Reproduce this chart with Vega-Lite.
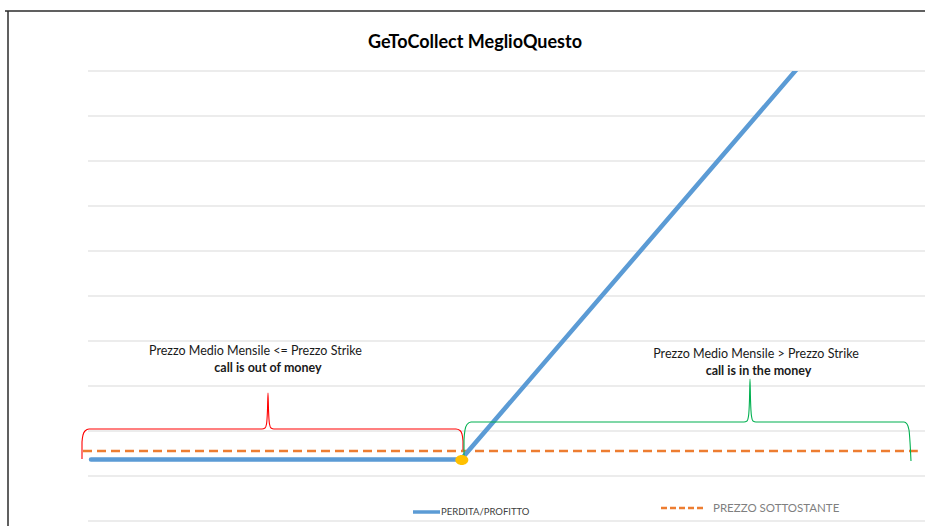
{
  "$schema": "https://vega.github.io/schema/vega-lite/v6.json",
  "width": 864,
  "height": 450,
  "autosize": "none",
  "padding": {"left": 61, "top": 71, "right": 0, "bottom": 5},
  "background": "white",
  "config": {"view": {"stroke": null}, "font": "Lato"},
  "datasets": {
    "titolo": [
      {"prezzo": 51.75, "valore": 86.22, "testo": "GeToCollect MeglioQuesto"}
    ],
    "grid": [
      {"valore": -20, "da": 3.375, "a": 108}, {"valore": -10, "da": 3.375, "a": 108},
      {"valore": 0, "da": 3.375, "a": 108}, {"valore": 10, "da": 3.375, "a": 108},
      {"valore": 20, "da": 3.375, "a": 108}, {"valore": 30, "da": 3.375, "a": 108},
      {"valore": 40, "da": 3.375, "a": 108}, {"valore": 50, "da": 3.375, "a": 108},
      {"valore": 60, "da": 3.375, "a": 108}, {"valore": 70, "da": 3.375, "a": 108},
      {"valore": 80, "da": 3.375, "a": 108}
    ],
    "cornice": [
      {"prezzo": -6.625, "valore": 93.33, "fine": -21.2}
    ],
    "corniceTop": [
      {"prezzo": -7.0, "valore": 93.33, "fine": 108}
    ],
    "payoff": [
      {"prezzo": 3.75, "valore": -6.33},
      {"prezzo": 50, "valore": -6.33},
      {"prezzo": 100, "valore": 97}
    ],
    "sottostante": [
      {"prezzo": 2.75, "valore": -4.44},
      {"prezzo": 107.1, "valore": -4.44}
    ],
    "strike": [
      {"prezzo": 50.1, "valore": -6.44}
    ],
    "braces": [
      {"brace": "out", "ord": 1, "prezzo": 2.625, "valore": -6.22},
      {"brace": "out", "ord": 2, "prezzo": 2.625, "valore": -2.44},
      {"brace": "out", "ord": 3, "prezzo": 2.75, "valore": -0.89},
      {"brace": "out", "ord": 4, "prezzo": 3.0, "valore": 0.0},
      {"brace": "out", "ord": 5, "prezzo": 3.5, "valore": 0.44},
      {"brace": "out", "ord": 6, "prezzo": 25.125, "valore": 0.44},
      {"brace": "out", "ord": 7, "prezzo": 25.5, "valore": 0.67},
      {"brace": "out", "ord": 8, "prezzo": 25.69, "valore": 1.56},
      {"brace": "out", "ord": 9, "prezzo": 25.81, "valore": 4.67},
      {"brace": "out", "ord": 10, "prezzo": 25.875, "valore": 8.44},
      {"brace": "out", "ord": 11, "prezzo": 25.94, "valore": 4.67},
      {"brace": "out", "ord": 12, "prezzo": 26.06, "valore": 1.56},
      {"brace": "out", "ord": 13, "prezzo": 26.25, "valore": 0.67},
      {"brace": "out", "ord": 14, "prezzo": 26.625, "valore": 0.44},
      {"brace": "out", "ord": 15, "prezzo": 49.375, "valore": 0.44},
      {"brace": "out", "ord": 16, "prezzo": 49.875, "valore": 0.11},
      {"brace": "out", "ord": 17, "prezzo": 50.125, "valore": -0.67},
      {"brace": "out", "ord": 18, "prezzo": 50.25, "valore": -2.22},
      {"brace": "out", "ord": 19, "prezzo": 50.25, "valore": -4.22},
      {"brace": "in", "ord": 1, "prezzo": 50.375, "valore": -6.89},
      {"brace": "in", "ord": 2, "prezzo": 50.375, "valore": -2.0},
      {"brace": "in", "ord": 3, "prezzo": 50.5, "valore": 0.22},
      {"brace": "in", "ord": 4, "prezzo": 50.75, "valore": 1.44},
      {"brace": "in", "ord": 5, "prezzo": 51.25, "valore": 2.0},
      {"brace": "in", "ord": 6, "prezzo": 85.375, "valore": 2.0},
      {"brace": "in", "ord": 7, "prezzo": 85.75, "valore": 2.22},
      {"brace": "in", "ord": 8, "prezzo": 85.94, "valore": 3.33},
      {"brace": "in", "ord": 9, "prezzo": 86.06, "valore": 6.89},
      {"brace": "in", "ord": 10, "prezzo": 86.125, "valore": 11.56},
      {"brace": "in", "ord": 11, "prezzo": 86.19, "valore": 6.89},
      {"brace": "in", "ord": 12, "prezzo": 86.31, "valore": 3.33},
      {"brace": "in", "ord": 13, "prezzo": 86.5, "valore": 2.22},
      {"brace": "in", "ord": 14, "prezzo": 86.875, "valore": 2.0},
      {"brace": "in", "ord": 15, "prezzo": 105.375, "valore": 2.0},
      {"brace": "in", "ord": 16, "prezzo": 105.75, "valore": 1.56},
      {"brace": "in", "ord": 17, "prezzo": 106.0, "valore": 0.22},
      {"brace": "in", "ord": 18, "prezzo": 106.125, "valore": -2.44},
      {"brace": "in", "ord": 19, "prezzo": 106.25, "valore": -6.67}
    ],
    "notes": [
      {"prezzo": 24.3, "valore": 17.8, "testo": "Prezzo Medio Mensile <= Prezzo Strike"},
      {"prezzo": 86.875, "valore": 17.1, "testo": "Prezzo Medio Mensile > Prezzo Strike"}
    ],
    "notesBold": [
      {"prezzo": 25.875, "valore": 14.0, "testo": "call is out of money"},
      {"prezzo": 87.19, "valore": 13.33, "testo": "call is in the money"}
    ]
  },
  "encoding": {
    "x": {"field": "prezzo", "type": "quantitative", "scale": {"domain": [0, 108], "nice": false, "zero": false}, "axis": null},
    "y": {"field": "valore", "type": "quantitative", "scale": {"domain": [-20, 80], "nice": false, "zero": false}, "axis": null}
  },
  "layer": [
    {
      "data": {"name": "grid"},
      "mark": {"type": "rule", "color": "#D9D9D9", "strokeWidth": 1},
      "encoding": {
        "x": {"field": "da", "type": "quantitative"},
        "x2": {"field": "a"}
      }
    },
    {
      "data": {"name": "cornice"},
      "mark": {"type": "rule", "color": "#2b2b2b", "strokeWidth": 1.5},
      "encoding": {
        "y2": {"field": "fine"}
      }
    },
    {
      "data": {"name": "corniceTop"},
      "mark": {"type": "rule", "color": "#2b2b2b", "strokeWidth": 1.5},
      "encoding": {
        "x2": {"field": "fine"}
      }
    },
    {
      "data": {"name": "titolo"},
      "mark": {"type": "text", "font": "Lato", "fontSize": 18, "fontWeight": "bold", "color": "#000000", "align": "center", "baseline": "middle"},
      "encoding": {
        "text": {"field": "testo"}
      }
    },
    {
      "data": {"name": "sottostante"},
      "mark": {"type": "line", "color": "#ED7D31", "strokeWidth": 2.5, "strokeDash": [9, 5]},
      "encoding": {}
    },
    {
      "data": {"name": "payoff"},
      "mark": {"type": "line", "color": "#5B9BD5", "strokeWidth": 4.5, "strokeCap": "round", "strokeJoin": "round", "clip": true},
      "encoding": {}
    },
    {
      "data": {"name": "braces"},
      "mark": {"type": "line", "strokeWidth": 1.1, "interpolate": "monotone"},
      "encoding": {
        "order": {"field": "ord", "type": "quantitative"},
        "detail": {"field": "brace"},
        "color": {"field": "brace", "type": "nominal", "scale": {"domain": ["out", "in"], "range": ["#FF0000", "#00B050"]}, "legend": null}
      }
    },
    {
      "data": {"name": "strike"},
      "mark": {"type": "point", "filled": true, "opacity": 1, "color": "#FFC000", "size": 169, "shape": "M-1,0A1,0.77 0 1,0 1,0A1,0.77 0 1,0 -1,0Z"},
      "encoding": {}
    },
    {
      "data": {"name": "notes"},
      "mark": {"type": "text", "font": "Lato", "fontSize": 12.5, "color": "#1a1a1a", "align": "center", "baseline": "middle"},
      "encoding": {
        "text": {"field": "testo"}
      }
    },
    {
      "data": {"name": "notesBold"},
      "mark": {"type": "text", "font": "Lato", "fontSize": 12.5, "fontWeight": "bold", "color": "#1a1a1a", "align": "center", "baseline": "middle"},
      "encoding": {
        "text": {"field": "testo"}
      }
    },
    {
      "data": {"values": [{"serie": "PERDITA/PROFITTO", "prezzo": 44.0, "fine": 47.375, "valore": -18.0}]},
      "mark": {"type": "rule", "color": "#5B9BD5", "strokeWidth": 3.5},
      "encoding": {"x2": {"field": "fine"}}
    },
    {
      "data": {"values": [{"serie": "PERDITA/PROFITTO", "prezzo": 47.5, "valore": -18.0}]},
      "mark": {"type": "text", "font": "Lato", "fontSize": 9.5, "color": "#404040", "align": "left", "baseline": "middle"},
      "encoding": {"text": {"field": "serie"}}
    },
    {
      "data": {"values": [{"serie": "PREZZO SOTTOSTANTE", "prezzo": 75.0, "fine": 80.5, "valore": -17.11}]},
      "mark": {"type": "rule", "color": "#ED7D31", "strokeWidth": 2.5, "strokeDash": [6, 3]},
      "encoding": {"x2": {"field": "fine"}}
    },
    {
      "data": {"values": [{"serie": "PREZZO SOTTOSTANTE", "prezzo": 81.5, "valore": -17.33}]},
      "mark": {"type": "text", "font": "Lato", "fontSize": 11.5, "color": "#7F7F7F", "align": "left", "baseline": "middle"},
      "encoding": {"text": {"field": "serie"}}
    }
  ]
}
